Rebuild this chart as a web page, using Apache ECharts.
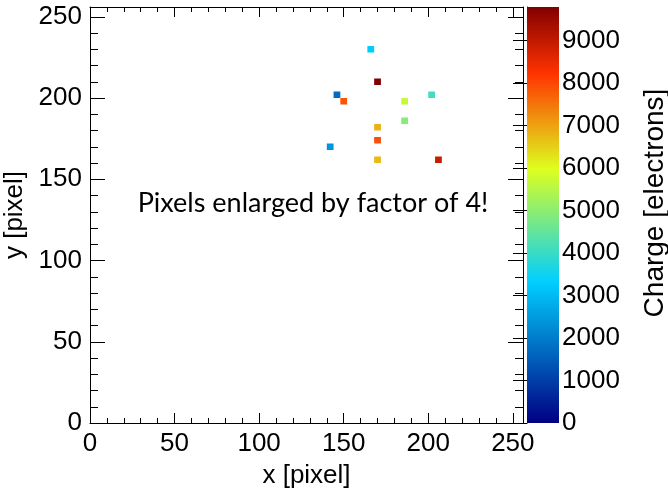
<!DOCTYPE html>
<html>
<head>
<meta charset="utf-8">
<script src="https://cdn.jsdelivr.net/npm/echarts@6/dist/echarts.min.js"></script>
<style>
  html, body { margin: 0; padding: 0; background: #fff; }
  #chart { width: 668px; height: 488px; }
</style>
</head>
<body>
<div id="chart"></div>
<script>
// hit pixel centres in pixel units; every hit is drawn as a 4x4 block
var pixelX = [166, 170, 146, 150, 202, 186, 186, 170, 170, 142, 170, 206];
var pixelY = [230, 210, 202, 198, 202, 198, 186, 182, 174, 170, 162, 162];
var charge = [3300, 9790, 1750, 7850, 4100, 5700, 4930, 6820, 7900, 2420, 6750, 8930];

var pixelTicks = [0, 50, 100, 150, 200, 250];
var chargeTicks = [0, 1000, 2000, 3000, 4000, 5000, 6000, 7000, 8000, 9000];
var pixelMax = 256;
var chargeMax = 9790;
var enlarge = 4;

// ROOT rainbow palette
var paletteStops = [0, 0.34, 0.61, 0.84, 1.0];
var paletteR = [0, 0, 0.87, 1, 0.51];
var paletteG = [0, 0.81, 1, 0.2, 0];
var paletteB = [0.51, 1, 0.12, 0, 0];

function paletteColor(t) {
  t = Math.max(0, Math.min(1, t));
  var i = 0;
  while (i < paletteStops.length - 2 && t > paletteStops[i + 1]) i++;
  var f = (t - paletteStops[i]) / (paletteStops[i + 1] - paletteStops[i]);
  function ch(a) { return Math.round(255 * (a[i] + (a[i + 1] - a[i]) * f)); }
  return 'rgb(' + ch(paletteR) + ',' + ch(paletteG) + ',' + ch(paletteB) + ')';
}

var font = 'Liberation Sans';
var labelStyle = { fontFamily: font, fontSize: 26, color: '#000' };
var black = { color: '#000', width: 1 };
var plain = function (v) { return String(v); };

function pixelAxis(grid, pos, tickLen, minorLen, labels, extra) {
  var ax = {
    gridIndex: grid, type: 'value', position: pos,
    min: 0, max: pixelMax, interval: 50,
    axisLine: { show: true, onZero: false, lineStyle: black },
    axisTick: { show: true, inside: true, length: tickLen, lineStyle: black },
    minorTick: { show: true, splitNumber: 5, length: minorLen, lineStyle: black },
    splitLine: { show: false },
    axisLabel: Object.assign({ show: labels, showMaxLabel: false, formatter: plain }, labelStyle)
  };
  return Object.assign(ax, extra || {});
}

var chart = echarts.init(document.getElementById('chart'));

chart.setOption({
  animation: false,
  backgroundColor: '#fff',
  grid: [
    { left: 90, top: 7, width: 433, height: 416, outerBoundsMode: 'none', containLabel: false },
    { left: 527, top: 7, width: 32, height: 416, outerBoundsMode: 'none', containLabel: false }
  ],
  xAxis: [
    pixelAxis(0, 'bottom', 10, 5, true, {
      name: 'x [pixel]', nameLocation: 'middle', nameGap: 40,
      nameTextStyle: labelStyle
    }),
    pixelAxis(0, 'top', 10, 5, false),
    { gridIndex: 1, type: 'value', min: 0, max: 1, show: false }
  ],
  yAxis: [
    pixelAxis(0, 'left', 15, 8, true, {
      name: 'y [pixel]', nameLocation: 'middle', nameGap: 53, nameRotate: 90,
      nameTextStyle: labelStyle
    }),
    pixelAxis(0, 'right', 15, 8, false),
    {
      gridIndex: 1, type: 'value', position: 'right',
      min: 0, max: chargeMax,
      axisLine: { show: true, lineStyle: black },
      axisTick: { show: true, inside: true, length: 14, customValues: chargeTicks, lineStyle: black },
      splitLine: { show: false },
      axisLabel: Object.assign({ margin: 3, customValues: chargeTicks, formatter: plain }, labelStyle)
    }
  ],
  series: [
    {
      type: 'custom',
      xAxisIndex: 0, yAxisIndex: 0,
      data: pixelX.map(function (x, i) { return [x, pixelY[i], charge[i]]; }),
      renderItem: function (params, api) {
        var h = enlarge / 2;
        var p0 = api.coord([api.value(0) - h, api.value(1) + h]);
        var p1 = api.coord([api.value(0) + h, api.value(1) - h]);
        return {
          type: 'rect',
          shape: { x: p0[0], y: p0[1], width: p1[0] - p0[0], height: p1[1] - p0[1] },
          style: { fill: paletteColor(api.value(2) / chargeMax) }
        };
      },
      z: 1
    },
    {
      // colour bar
      type: 'custom',
      xAxisIndex: 2, yAxisIndex: 2,
      data: [[0, chargeMax]],
      renderItem: function (params, api) {
        var p0 = api.coord([0, api.value(1)]);
        var p1 = api.coord([1, 0]);
        var stops = paletteStops.map(function (s) {
          return { offset: s, color: paletteColor(s) };
        });
        return {
          type: 'rect',
          shape: { x: p0[0], y: p0[1], width: p1[0] - p0[0], height: p1[1] - p0[1] },
          style: { fill: new echarts.graphic.LinearGradient(0, 1, 0, 0, stops) }
        };
      },
      z: 1
    }
  ],
  graphic: [
    {
      type: 'text', x: 313, y: 203,
      style: {
        text: 'Pixels enlarged by factor of 4!',
        font: '27px Lato', fill: '#000',
        align: 'center', verticalAlign: 'middle'
      }
    },
    {
      type: 'text', x: 655, y: 203, rotation: Math.PI / 2,
      style: {
        text: 'Charge [electrons]',
        font: '28px "Liberation Sans"', fill: '#000',
        align: 'center', verticalAlign: 'middle'
      }
    }
  ]
});
</script>
</body>
</html>
